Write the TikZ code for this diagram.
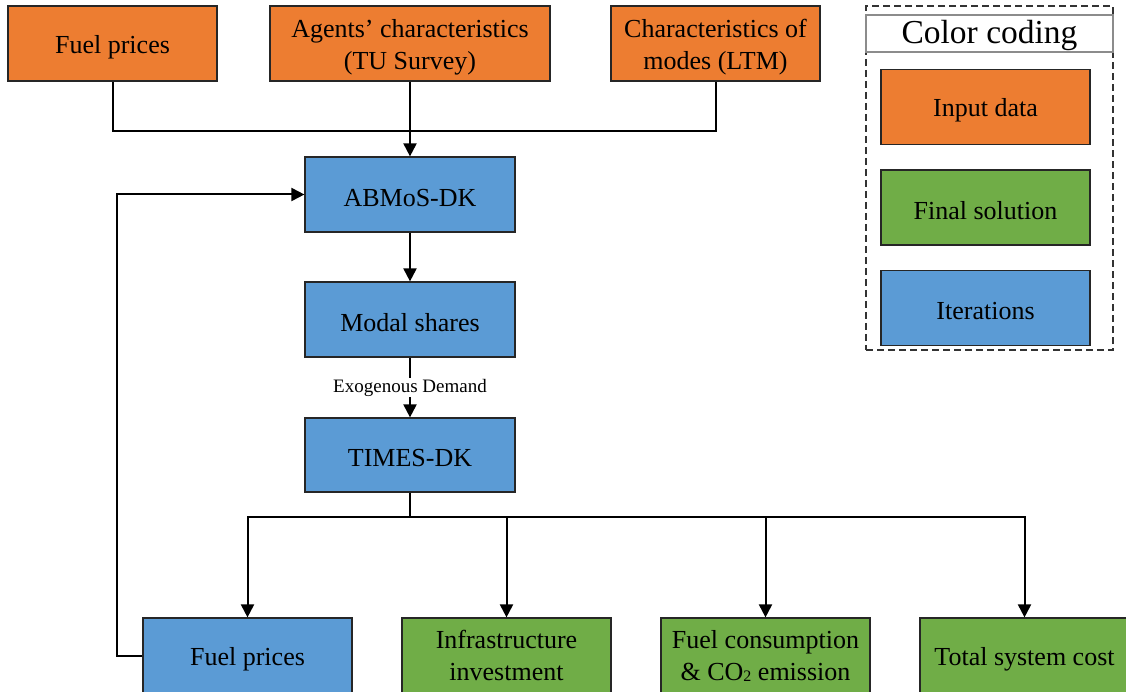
\documentclass[tikz,border=0pt]{standalone}
\usepackage{fontspec}
\setmainfont{Liberation Serif}
\usetikzlibrary{arrows.meta}
\definecolor{inorange}{HTML}{ED7D31}
\definecolor{fingreen}{HTML}{70AD47}
\definecolor{itblue}{HTML}{5B9BD5}
\begin{document}
\begin{tikzpicture}[x=1pt,y=-1pt,
  box/.style={draw=black!85, line width=1.2pt, minimum width=209pt, minimum height=75pt,
    inner sep=0pt},
  lbl/.style={align=center, font=\fontsize{26}{32}\selectfont, text=black, inner sep=0pt, yshift=-3.5pt},
  inbox/.style={box, fill=inorange},
  finbox/.style={box, fill=fingreen},
  itbox/.style={box, fill=itblue},
  conn/.style={line width=2pt},
  arr/.style={conn, -{Triangle[length=13pt,width=13pt]}}]
\useasboundingbox (0,0) rectangle (1126,692);
\clip (0,0) rectangle (1126,692);
% top inputs
\node[inbox, label={[lbl]center:Fuel prices}] (fp1) at (112.5,43.5) {};
\node[inbox, minimum width=280pt, label={[lbl]center:Agents’ characteristics\\(TU Survey)}] (agents) at (410,43.5) {};
\node[inbox, label={[lbl]center:Characteristics of\\modes (LTM)}] (modes) at (715.5,43.5) {};
% iteration chain
\node[itbox, minimum width=210pt, label={[lbl]center:ABMoS-DK}] (abm) at (410,194.5) {};
\node[itbox, minimum width=210pt, label={[lbl]center:Modal shares}] (modal) at (410,319.5) {};
\node[itbox, minimum width=210pt, minimum height=74pt, label={[lbl]center:TIMES-DK}] (times) at (410,455) {};
% outputs
\node[itbox, label={[lbl]center:Fuel prices}] (fp2) at (247.5,655.5) {};
\node[finbox, label={[lbl, yshift=3.5pt]center:Infrastructure\\investment}] (infra) at (506.5,655.5) {};
\node[finbox, label={[lbl, yshift=3.5pt]center:Fuel consumption\\\& CO{\raisebox{-1pt}{\fontsize{16}{16}\selectfont 2}} emission}] (fuelc) at (765.5,655.5) {};
\node[finbox, label={[lbl]center:Total system cost}] (total) at (1024.5,655.5) {};
% legend
\node[draw=black!80, dash pattern=on 7pt off 4pt, line width=1.5pt, minimum width=247pt, minimum height=344pt, inner sep=0pt] (legend) at (989.5,178) {};
\node[draw=black!45, line width=1.2pt, fill=white, minimum width=247pt, minimum height=37pt, inner sep=0pt,
  label={[lbl, font=\fontsize{33.5}{36}\selectfont, yshift=1.5pt]center:Color coding}] (ltitle) at (989.5,33.5) {};
\node[inbox, label={[lbl]center:Input data}] (lin) at (985.5,107) {};
\node[finbox, label={[lbl]center:Final solution}] (lfin) at (985.5,207.5) {};
\node[itbox, label={[lbl]center:Iterations}] (lit) at (985.5,308) {};
% connectors
\coordinate (j1) at (410,131);
\coordinate (j2) at (410,517);
\draw[conn] (fp1.south) |- (j1) -| (modes.south);
\draw[arr] (agents.south) -- (abm.north);
\draw[arr] (abm) -- (modal);
\draw[arr] (modal) -- node[fill=white, inner sep=1pt, font=\fontsize{19}{21}\selectfont] {Exogenous Demand} (times);
\draw[conn] (times.south) -- (j2);
\draw[arr] (j2) -| (fp2);
\draw[arr] (j2) -| (infra);
\draw[arr] (j2) -| (fuelc);
\draw[arr] (j2) -| (total);
\draw[arr] (fp2.west) -- ++(-25,0) |- (abm.west);
\end{tikzpicture}
\end{document}
